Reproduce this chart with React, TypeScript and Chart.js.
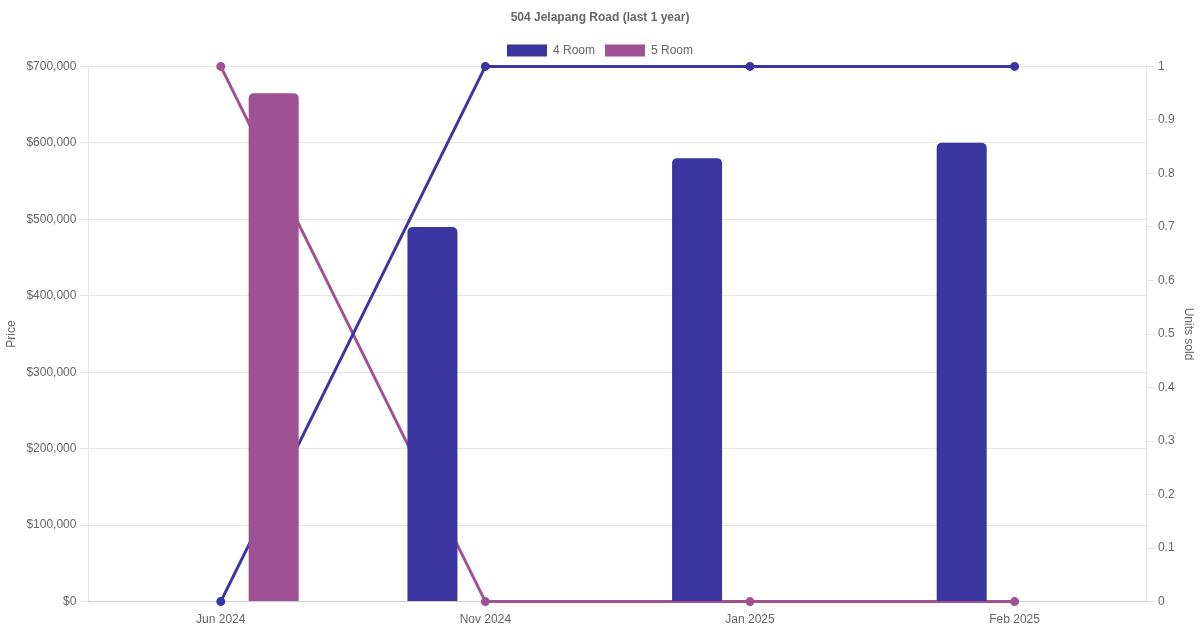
import React, { useEffect, useRef } from "react";
import { Chart, registerables } from "chart.js";

Chart.register(...registerables);

const title = "504 Jelapang Road (last 1 year)";
const categories = ["Jun 2024", "Nov 2024", "Jan 2025", "Feb 2025"];
const seriesNames = ["4 Room", "5 Room"];
const colors = ["#3a35a0", "#a05194"];
const price4Room: (number | null)[] = [null, 490000, 580000, 600000];
const price5Room: (number | null)[] = [665000, null, null, null];
const units4Room = [0, 1, 1, 1];
const units5Room = [1, 0, 0, 0];

export default function App() {
  const ref = useRef<HTMLCanvasElement>(null);
  useEffect(() => {
    document.body.style.margin = "0";
    Chart.defaults.font.family = "'Liberation Sans', Arial, Helvetica, sans-serif";
    Chart.defaults.color = "#666";
    const chart = new Chart(ref.current!, {
      type: "bar",
      data: {
        labels: categories,
        datasets: [
          {
            type: "bar",
            label: seriesNames[0],
            data: price4Room,
            backgroundColor: colors[0],
            borderRadius: 5,
            borderSkipped: "bottom",
            maxBarThickness: 50,
            yAxisID: "y",
            order: 0,
          },
          {
            type: "bar",
            label: seriesNames[1],
            data: price5Room,
            backgroundColor: colors[1],
            borderRadius: 5,
            borderSkipped: "bottom",
            maxBarThickness: 50,
            yAxisID: "y",
            order: 0,
          },
          {
            type: "line",
            label: seriesNames[0] + " units",
            data: units4Room,
            borderColor: colors[0],
            backgroundColor: colors[0],
            borderWidth: 3,
            pointRadius: 3,
            clip: false,
            yAxisID: "y1",
            order: 1,
          },
          {
            type: "line",
            label: seriesNames[1] + " units",
            data: units5Room,
            borderColor: colors[1],
            backgroundColor: colors[1],
            borderWidth: 3,
            pointRadius: 3,
            clip: false,
            yAxisID: "y1",
            order: 1,
          },
        ] as any,
      },
      options: {
        responsive: true,
        maintainAspectRatio: false,
        animation: false,
        plugins: {
          title: {
            display: true,
            text: title,
            font: { size: 12, weight: "bold" },
            color: "#666",
          },
          legend: {
            labels: {
              filter: (item: any) => seriesNames.includes(item.text),
              font: { size: 12 },
            },
          },
        },
        scales: {
          x: {
            offset: true,
            grid: { display: false },
            ticks: { font: { size: 12 } },
          },
          y: {
            position: "left",
            min: 0,
            max: 700000,
            ticks: {
              stepSize: 100000,
              padding: 4,
              font: { size: 12 },
              callback: (v: any) => "$" + Number(v).toLocaleString("en-US"),
            },
            title: { display: true, text: "Price", font: { size: 12 } },
          },
          y1: {
            position: "right",
            min: 0,
            max: 1,
            grid: { drawOnChartArea: false },
            ticks: {
              stepSize: 0.1,
              font: { size: 12 },
              callback: (v: any) => String(Math.round(Number(v) * 10) / 10),
            },
            title: { display: true, text: "Units sold", font: { size: 12 } },
          },
        },
      } as any,
    });
    return () => chart.destroy();
  }, []);
  return (
    <div style={{ width: 1200, height: 630, position: "relative" }}>
      <canvas ref={ref} />
    </div>
  );
}
